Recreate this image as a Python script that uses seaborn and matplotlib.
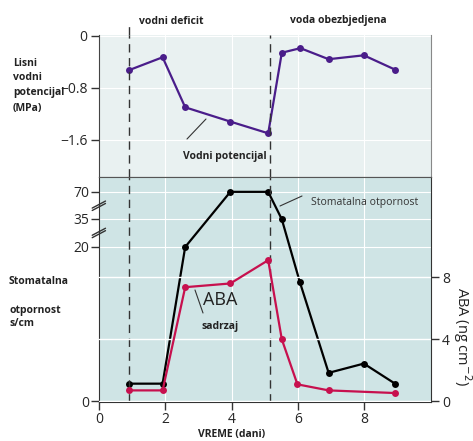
import matplotlib
matplotlib.use("Agg")
import matplotlib.pyplot as plt
import numpy as np
import pandas as pd
import seaborn as sns

# leaf water potential (MPa)
days_wp = [0.9, 1.92, 2.6, 3.96, 5.1, 5.51, 6.07, 6.92, 7.98, 8.92]
water_potential = [-0.53, -0.33, -1.10, -1.32, -1.50, -0.26, -0.19, -0.36, -0.30, -0.52]

# stomatal resistance (s/cm)
days_sr = [0.9, 1.92, 2.6, 3.96, 5.1, 5.51, 6.05, 6.92, 7.98, 8.92]
stomatal_res = [2.3, 2.3, 20, 70, 70, 34.8, 15.5, 3.7, 4.9, 2.3]

# ABA content (ng cm-2)
days_aba = [0.9, 1.92, 2.6, 3.96, 5.1, 5.51, 5.98, 6.92, 8.92]
aba = [0.71, 0.71, 7.36, 7.6, 9.1, 4.0, 1.1, 0.71, 0.54]

phase_lines = [0.9, 5.14]
x_ticks = [0, 2, 4, 6, 8]
wp_ticks = [0, -0.8, -1.6]
wp_labels = ["0", "\u22120.8", "\u22121.6"]
sr_ticks = [0, 20, 35, 70]
aba_ticks = [0, 4, 8]

# broken axis for stomatal resistance: 0-20 linear, then compressed
brk_v = [-100, 0, 20, 35, 70, 300]
brk_p = [-770, 0, 154, 182, 209, 209 + 230 * 27 / 35]


def fwd(v):
    return np.interp(v, brk_v, brk_p)


def inv(p):
    return np.interp(p, brk_p, brk_v)


sns.set_style("darkgrid", {"axes.facecolor": "#e9f1f1", "grid.color": "white",
                           "axes.edgecolor": "#333333"})
plt.rcParams["font.family"] = ["Open Sans", "DejaVu Sans"]
plt.rcParams["xtick.bottom"] = True
plt.rcParams["ytick.left"] = True

purple = "#4a1d8a"
red = "#c7104e"
bold = dict(fontsize=7.5, fontweight="bold", color="#222222")

fig = plt.figure(figsize=(4.73, 4.41), dpi=100)
ax_top = fig.add_axes([0.209, 0.599, 0.702, 0.322])
ax_bot = fig.add_axes([0.209, 0.088, 0.702, 0.511])
ax_bot.set_facecolor("#cfe4e5")

df_wp = pd.DataFrame({"dan": days_wp, "wp": water_potential})
df_sr = pd.DataFrame({"dan": days_sr, "sr": stomatal_res})
df_aba = pd.DataFrame({"dan": days_aba, "aba": aba})

# top panel
sns.lineplot(data=df_wp, x="dan", y="wp", ax=ax_top, color=purple, lw=1.6,
             marker="o", markersize=5, markeredgewidth=0)
ax_top.set_xlim(0, 10)
ax_top.set_ylim(-2.17, 0.015)
ax_top.set_xticks(x_ticks)
ax_top.set_xticklabels([])
ax_top.tick_params(axis="x", length=0)
ax_top.set_yticks(wp_ticks)
ax_top.set_yticklabels(wp_labels, fontsize=10)
ax_top.tick_params(axis="y", length=6, width=1, color="#333333", pad=2)
ax_top.set_xlabel("")
ax_top.set_ylabel("")
for s in ["left", "bottom", "right"]:
    ax_top.spines[s].set_visible(True)
    ax_top.spines[s].set_color("#444444")
ax_top.spines["top"].set_visible(False)
ax_top.spines["right"].set_color("#888888")
for xv in phase_lines:
    ax_top.axvline(xv, color="#333333", lw=1, ls=(0, (6, 4)))
ax_top.axvline(phase_lines[0], ymin=1, ymax=1.085, color="#333333", lw=1,
               ls=(0, (6, 4)), clip_on=False)

# bottom panel
sns.lineplot(data=df_sr, x="dan", y="sr", ax=ax_bot, color="black", lw=1.6,
             marker="o", markersize=5, markeredgewidth=0)
ax_bot.set_yscale("function", functions=(fwd, inv))
ax_bot.set_xlim(0, 10)
ax_bot.set_ylim(-0.1, 89.4)
ax_bot.set_xticks(x_ticks)
ax_bot.set_xticklabels([str(t) for t in x_ticks], fontsize=10)
ax_bot.set_yticks(sr_ticks)
ax_bot.set_yticklabels([str(t) for t in sr_ticks], fontsize=10)
ax_bot.tick_params(axis="both", length=6, width=1, color="#333333", pad=1)
ax_bot.set_xlabel("")
ax_bot.set_ylabel("")
for s in ["left", "bottom", "right"]:
    ax_bot.spines[s].set_visible(True)
    ax_bot.spines[s].set_color("#333333")
ax_bot.spines["top"].set_visible(True)
ax_bot.spines["top"].set_color("#555555")
for xv in phase_lines:
    ax_bot.axvline(xv, color="#333333", lw=1, ls=(0, (6, 4)))

# break marks on the left axis
ytr = ax_bot.get_yaxis_transform()
for yb in [52, 27.5]:
    for dy in [-1.2, 1.2]:
        y0 = inv(fwd(yb) + dy - 3.5)
        y1 = inv(fwd(yb) + dy + 3.5)
        ax_bot.plot([-0.02, 0.02], [y0, y1], transform=ytr, color="#333333",
                    lw=1, clip_on=False)

ax_aba = ax_bot.twinx()
ax_aba.grid(True, color="white", lw=1)
ax_aba.set_facecolor("none")
sns.lineplot(data=df_aba, x="dan", y="aba", ax=ax_aba, color=red, lw=1.6,
             marker="o", markersize=5, markeredgewidth=0)
ax_aba.set_ylim(-0.05, 14.47)
ax_aba.set_yticks(aba_ticks)
ax_aba.set_yticklabels([str(t) for t in aba_ticks], fontsize=10)
ax_aba.tick_params(axis="y", right=True, length=6, width=1, color="#333333", pad=2)
ax_aba.set_xlabel("")
ax_aba.set_ylabel("ABA (ng cm$^{-2}$)", fontsize=10.5, rotation=270, labelpad=14,
                  color="#222222")
ax_aba.yaxis.set_label_coords(1.13, 0.29)
for s in ax_aba.spines.values():
    s.set_visible(False)

# texts
fig.text(232 / 473, 1 - 434 / 441, "VREME (dani)", **bold, va="center", ha="center")
fig.text(139 / 473, 1 - 22 / 441, "vodni deficit", **bold, va="center")
fig.text(290 / 473, 1 - 20 / 441, "voda obezbjedjena", **bold, va="center")
for i, t in enumerate(["Lisni", "vodni", "potencijal", "(MPa)"]):
    fig.text(13 / 473, 1 - (63 + i * 15) / 441, t, **bold, va="center")
for t, yp in [("Stomatalna", 281), ("otpornost", 310), ("s/cm", 324)]:
    fig.text(9 / 473, 1 - yp / 441, t, **bold, va="center")
fig.text(183 / 473, 1 - 157 / 441, "Vodni potencijal", **bold, va="center")
fig.text(311 / 473, 1 - 202 / 441, "Stomatalna otpornost", fontsize=7.5,
         color="#333333", va="center")
fig.text(220 / 473, 1 - 300 / 441, "ABA", fontsize=13, color="#222222",
         va="center", ha="center")
fig.text(220 / 473, 1 - 326 / 441, "sadrzaj", **bold, va="center", ha="center")

for (x0, y0), (x1, y1) in [((187, 139), (206, 119)), ((280, 206), (302, 196)),
                           ((195, 290), (203, 313))]:
    fig.add_artist(plt.Line2D([x0 / 473, x1 / 473], [1 - y0 / 441, 1 - y1 / 441],
                              color="#333333", lw=0.8, transform=fig.transFigure))

fig.savefig("out.png", dpi=100)
